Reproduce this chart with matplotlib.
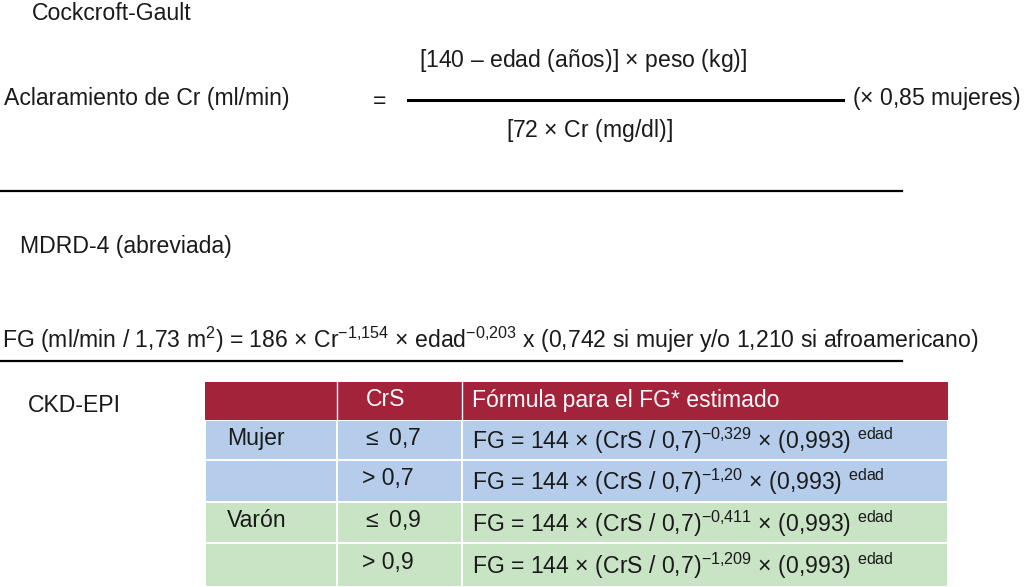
import matplotlib
matplotlib.use("Agg")
import matplotlib.pyplot as plt
from matplotlib.patches import Rectangle

plt.rcParams.update({
    "font.family": "Liberation Sans",
    "mathtext.fontset": "custom",
    "mathtext.rm": "Liberation Sans",
    "mathtext.it": "Liberation Sans",
    "mathtext.default": "regular",
})

FS = 16.6
TEXT_COLOR = "#1a1a1a"

header = ["CrS", "Fórmula para el FG* estimado"]
sexes = ["Mujer", "", "Varón", ""]
crs = [r"$\leq$ 0,7", "> 0,7", r"$\leq$ 0,9", "> 0,9"]
exponents = ["-0{,}329", "-1{,}20", "-0{,}411", "-1{,}209"]
row_colors = ["#b5cdea", "#b5cdea", "#c9e4c5", "#c9e4c5"]
header_color = "#a3233b"

fig = plt.figure(figsize=(10.24, 5.87), dpi=100)
ax = fig.add_axes([0, 0, 1, 1])
ax.set_xlim(0, 1024)
ax.set_ylim(587, 0)
ax.axis("off")

# Cockcroft-Gault
ax.text(32, 13, "Cockcroft-Gault", fontsize=FS, va="center", color=TEXT_COLOR)
ax.text(4, 99, "Aclaramiento de Cr (ml/min)", fontsize=FS, va="center", color=TEXT_COLOR)
ax.text(380, 102, "=", fontsize=FS, va="center", ha="center", color=TEXT_COLOR)
ax.text(583, 61, r"[140 – edad (años)] $\times$ peso (kg)]", fontsize=FS, va="center", ha="center", color=TEXT_COLOR)
ax.plot([408, 843], [100, 100], color="black", lw=2.2)
ax.text(589, 131, r"[72 $\times$ Cr (mg/dl)]", fontsize=FS, va="center", ha="center", color=TEXT_COLOR)
ax.text(852, 99, r"($\times$ 0,85 mujeres)", fontsize=FS, va="center", color=TEXT_COLOR)
ax.plot([0, 902], [191, 191], color="black", lw=1.6)

# MDRD-4
ax.text(20, 246, "MDRD-4 (abreviada)", fontsize=FS, va="center", color=TEXT_COLOR)
ax.text(2, 340,
        r"FG (ml/min / 1,73 m$^{2}$) = 186 $\times$ Cr$^{-1{,}154}$ $\times$ edad$^{-0{,}203}$ x (0,742 si mujer y/o 1,210 si afroamericano)",
        fontsize=FS, va="center", color=TEXT_COLOR)
ax.plot([0, 902], [361, 361], color="black", lw=1.6)

# CKD-EPI table
ax.text(28, 406, "CKD-EPI", fontsize=FS, va="center", color=TEXT_COLOR)
col_x = [205, 337, 462, 948]
ax.add_patch(Rectangle((col_x[0], 382), col_x[3] - col_x[0], 38, color=header_color, lw=0))
for x in col_x[1:3]:
    ax.plot([x, x], [382, 420], color="white", lw=1)
ax.text(366, 399, header[0], fontsize=FS, va="center", color="white")
ax.text(472, 401, header[1], fontsize=FS, va="center", color="white")

row_y = [420, 460, 502, 543, 587]
for i in range(4):
    y0, y1 = row_y[i] + 1, row_y[i + 1] - 1
    for j in range(3):
        ax.add_patch(Rectangle((col_x[j] + 1, y0), col_x[j + 1] - col_x[j] - 2, y1 - y0,
                               color=row_colors[i], lw=0))
    yc = (row_y[i] + row_y[i + 1]) / 2
    if sexes[i]:
        ax.text(227, yc - 2, sexes[i], fontsize=FS, va="center", color=TEXT_COLOR)
    ax.text(362, yc - 2, crs[i], fontsize=FS, va="center", color=TEXT_COLOR)
    ax.text(472, yc + 1,
            r"FG = 144 $\times$ (CrS / 0,7)$^{%s}$ $\times$ (0,993) $^{edad}$" % exponents[i],
            fontsize=FS, va="center", color=TEXT_COLOR)

fig.savefig("out.png", dpi=100)
